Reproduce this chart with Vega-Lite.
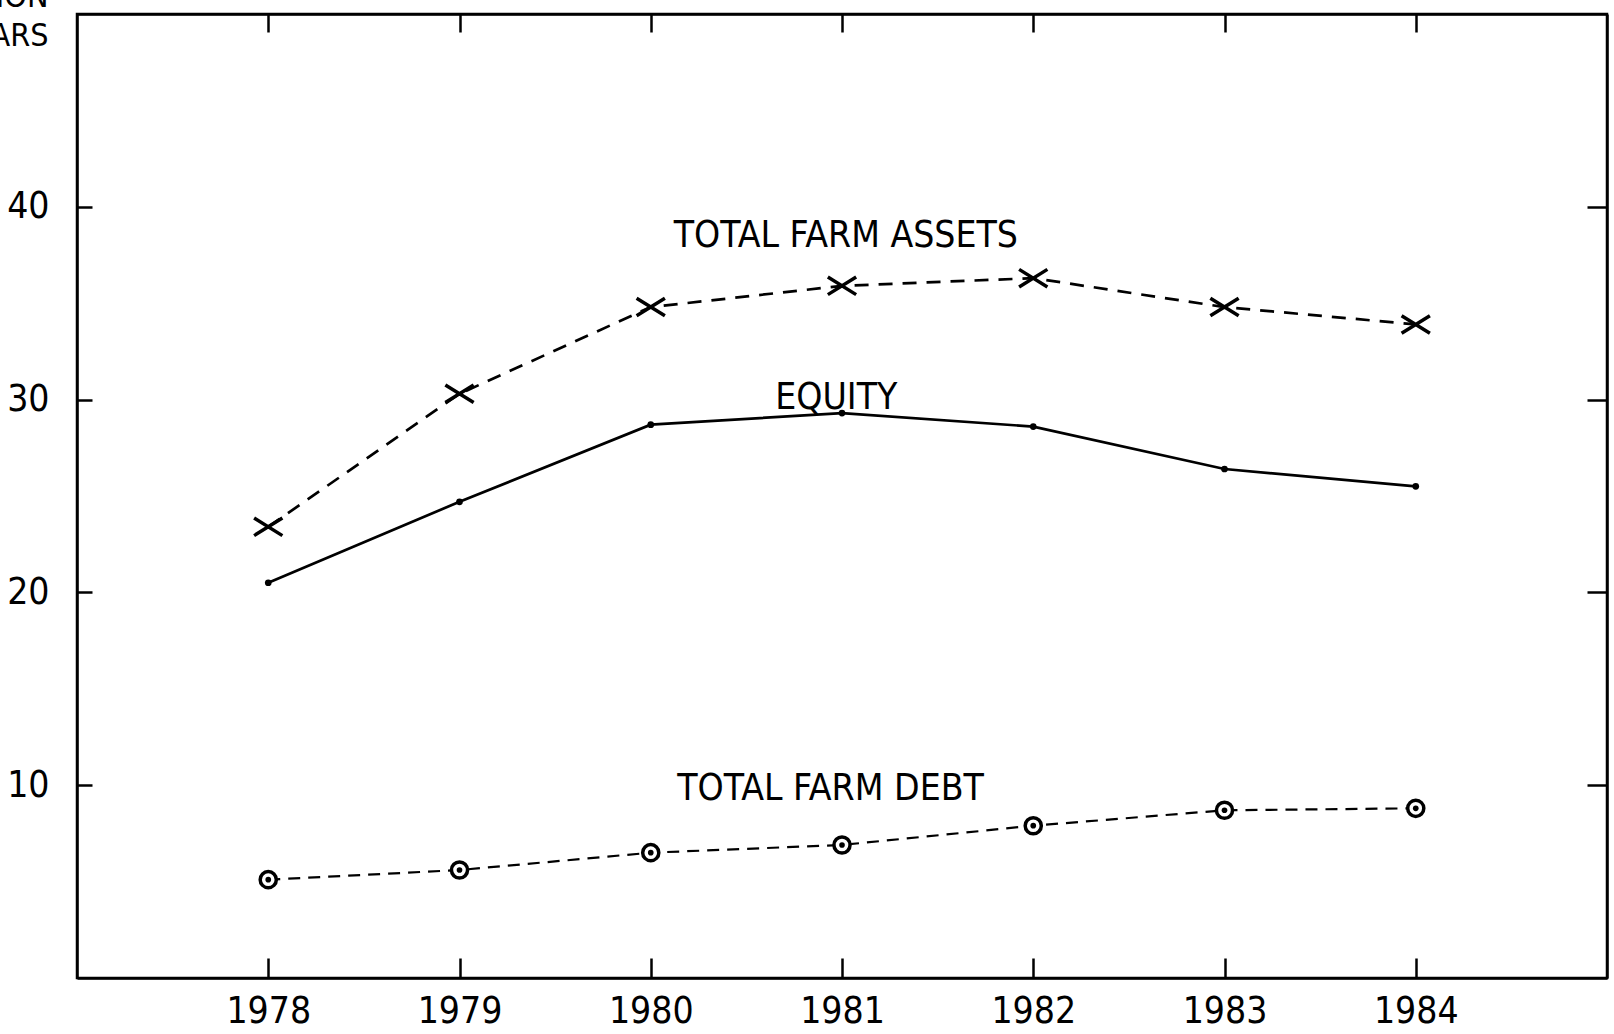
{
  "$schema": "https://vega.github.io/schema/vega-lite/v6.json",
  "width": 1530,
  "height": 964,
  "autosize": {"type": "none"},
  "padding": {"left": 77, "top": 14, "right": 7, "bottom": 56},
  "background": "white",
  "config": {
    "view": {"stroke": "black", "strokeWidth": 2.5},
    "font": "DejaVu Sans Condensed",
    "axis": {
      "grid": false,
      "domainColor": "black",
      "domainWidth": 2.5,
      "tickColor": "black",
      "tickWidth": 2.5,
      "labelColor": "black",
      "labelFont": "DejaVu Sans Condensed",
      "labelFontSize": 37,
      "titleColor": "black",
      "titleFont": "DejaVu Sans Condensed"
    }
  },
  "datasets": {
    "series": [
      {"year": 1978, "series": "assets", "value": 23.4},
      {"year": 1979, "series": "assets", "value": 30.3},
      {"year": 1980, "series": "assets", "value": 34.8},
      {"year": 1981, "series": "assets", "value": 35.9},
      {"year": 1982, "series": "assets", "value": 36.3},
      {"year": 1983, "series": "assets", "value": 34.8},
      {"year": 1984, "series": "assets", "value": 33.9},
      {"year": 1978, "series": "equity", "value": 20.5},
      {"year": 1979, "series": "equity", "value": 24.7},
      {"year": 1980, "series": "equity", "value": 28.7},
      {"year": 1981, "series": "equity", "value": 29.3},
      {"year": 1982, "series": "equity", "value": 28.6},
      {"year": 1983, "series": "equity", "value": 26.4},
      {"year": 1984, "series": "equity", "value": 25.5},
      {"year": 1978, "series": "debt", "value": 5.1},
      {"year": 1979, "series": "debt", "value": 5.6},
      {"year": 1980, "series": "debt", "value": 6.5},
      {"year": 1981, "series": "debt", "value": 6.9},
      {"year": 1982, "series": "debt", "value": 7.9},
      {"year": 1983, "series": "debt", "value": 8.7},
      {"year": 1984, "series": "debt", "value": 8.8}
    ],
    "labels": [
      {"label": "TOTAL FARM ASSETS", "year": 1981.02, "value": 37.9},
      {"label": "EQUITY", "year": 1980.97, "value": 29.5},
      {"label": "TOTAL FARM DEBT", "year": 1980.94, "value": 9.23}
    ]
  },
  "layer": [
    {
      "data": {"name": "series"},
      "transform": [{"filter": "datum.series == 'assets'"}],
      "mark": {"type": "line", "color": "black", "strokeWidth": 2.7, "strokeDash": [14, 10]},
      "encoding": {
        "x": {"field": "year", "type": "quantitative", "scale": {"domain": [1977, 1985], "nice": false, "zero": false},
          "axis": {"orient": "bottom", "values": [1978, 1979, 1980, 1981, 1982, 1983, 1984], "format": "d", "tickSize": -20, "labelPadding": 35, "title": null, "labelFlush": false}},
        "y": {"field": "value", "type": "quantitative", "scale": {"domain": [0, 50], "nice": false},
          "axis": {"orient": "left", "values": [10, 20, 30, 40], "tickSize": -15, "labelPadding": 43,
            "title": ["BILLION", "DOLLARS"], "titleAngle": 0, "titleAlign": "right", "titleBaseline": "alphabetic",
            "titleX": -29, "titleY": -8, "titleFontSize": 32, "titleFontWeight": "normal", "titleLineHeight": 39}}
      }
    },
    {
      "data": {"name": "series"},
      "transform": [{"filter": "datum.series == 'assets'"}],
      "mark": {"type": "point", "shape": "M-1,-0.62L1,0.62M-1,0.62L1,-0.62", "filled": false, "stroke": "black", "strokeWidth": 3.5, "size": 800, "opacity": 1},
      "encoding": {
        "x": {"field": "year", "type": "quantitative", "scale": {"domain": [1977, 1985], "nice": false, "zero": false}, "axis": null},
        "y": {"field": "value", "type": "quantitative", "scale": {"domain": [0, 50], "nice": false}, "axis": null}
      }
    },
    {
      "data": {"name": "series"},
      "transform": [{"filter": "datum.series == 'equity'"}],
      "mark": {"type": "line", "color": "black", "strokeWidth": 2.7},
      "encoding": {
        "x": {"field": "year", "type": "quantitative", "scale": {"domain": [1977, 1985], "nice": false, "zero": false}, "axis": null},
        "y": {"field": "value", "type": "quantitative", "scale": {"domain": [0, 50], "nice": false}, "axis": null}
      }
    },
    {
      "data": {"name": "series"},
      "transform": [{"filter": "datum.series == 'equity'"}],
      "mark": {"type": "point", "shape": "circle", "filled": true, "color": "black", "size": 45, "opacity": 1},
      "encoding": {
        "x": {"field": "year", "type": "quantitative", "scale": {"domain": [1977, 1985], "nice": false, "zero": false}, "axis": null},
        "y": {"field": "value", "type": "quantitative", "scale": {"domain": [0, 50], "nice": false}, "axis": null}
      }
    },
    {
      "data": {"name": "series"},
      "transform": [{"filter": "datum.series == 'debt'"}],
      "mark": {"type": "line", "color": "black", "strokeWidth": 2.2, "strokeDash": [12, 8]},
      "encoding": {
        "x": {"field": "year", "type": "quantitative", "scale": {"domain": [1977, 1985], "nice": false, "zero": false}, "axis": null},
        "y": {"field": "value", "type": "quantitative", "scale": {"domain": [0, 50], "nice": false}, "axis": null}
      }
    },
    {
      "data": {"name": "series"},
      "transform": [{"filter": "datum.series == 'debt'"}],
      "mark": {"type": "point", "shape": "circle", "filled": true, "fill": "white", "stroke": "black", "strokeWidth": 3.5, "size": 260, "opacity": 1},
      "encoding": {
        "x": {"field": "year", "type": "quantitative", "scale": {"domain": [1977, 1985], "nice": false, "zero": false}, "axis": null},
        "y": {"field": "value", "type": "quantitative", "scale": {"domain": [0, 50], "nice": false}, "axis": null}
      }
    },
    {
      "data": {"name": "series"},
      "transform": [{"filter": "datum.series == 'debt'"}],
      "mark": {"type": "point", "shape": "circle", "filled": true, "color": "black", "size": 32, "opacity": 1},
      "encoding": {
        "x": {"field": "year", "type": "quantitative", "scale": {"domain": [1977, 1985], "nice": false, "zero": false}, "axis": null},
        "y": {"field": "value", "type": "quantitative", "scale": {"domain": [0, 50], "nice": false}, "axis": null}
      }
    },
    {
      "data": {"name": "labels"},
      "mark": {"type": "text", "align": "center", "baseline": "alphabetic", "fontSize": 37, "color": "black", "font": "DejaVu Sans Condensed"},
      "encoding": {
        "x": {"field": "year", "type": "quantitative", "scale": {"domain": [1977, 1985], "nice": false, "zero": false},
          "axis": {"orient": "top", "values": [1978, 1979, 1980, 1981, 1982, 1983, 1984], "tickSize": -18, "labels": false, "title": null}},
        "y": {"field": "value", "type": "quantitative", "scale": {"domain": [0, 50], "nice": false},
          "axis": {"orient": "right", "values": [10, 20, 30, 40], "tickSize": -20, "labels": false, "title": null}},
        "text": {"field": "label"}
      }
    }
  ],
  "resolve": {"axis": {"x": "independent", "y": "independent"}}
}
